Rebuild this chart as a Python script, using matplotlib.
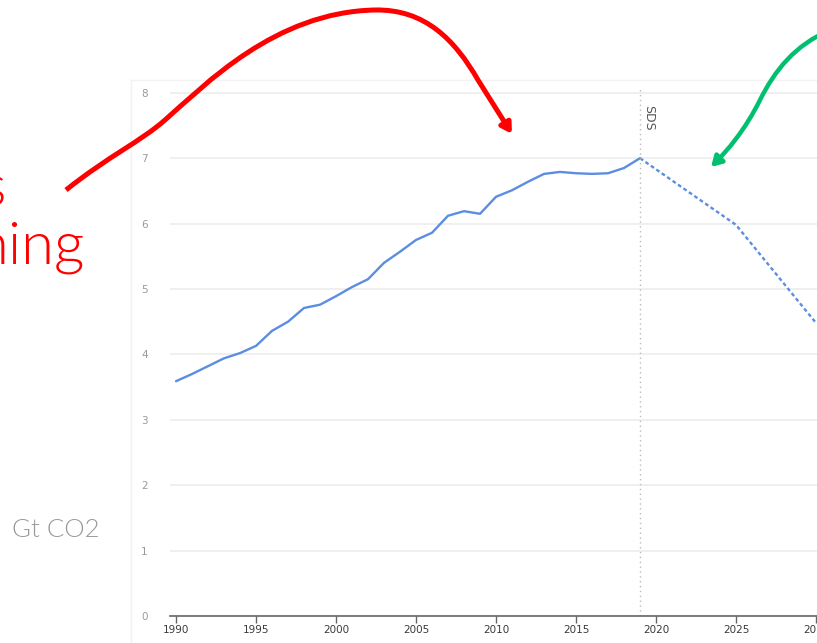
import matplotlib
matplotlib.use('Agg')
import matplotlib.pyplot as plt
from matplotlib.path import Path
from matplotlib.patches import FancyArrowPatch
from matplotlib.transforms import Affine2D
from matplotlib.lines import Line2D

# historic emissions, Gt CO2
years = [1990, 1991, 1992, 1993, 1994, 1995, 1996, 1997, 1998, 1999,
         2000, 2001, 2002, 2003, 2004, 2005, 2006, 2007, 2008, 2009,
         2010, 2011, 2012, 2013, 2014, 2015, 2016, 2017, 2018, 2019]
values = [3.59, 3.70, 3.82, 3.94, 4.02, 4.13, 4.36, 4.50, 4.71, 4.76,
          4.89, 5.03, 5.15, 5.40, 5.57, 5.75, 5.86, 6.12, 6.19, 6.15,
          6.41, 6.51, 6.64, 6.76, 6.79, 6.77, 6.76, 6.77, 6.85, 7.00]
# SDS scenario
sds_years = [2019, 2025, 2030]
sds_values = [7.00, 5.98, 4.48]

xticks = [1990, 1995, 2000, 2005, 2010, 2015, 2020, 2025, 2030]
yticks = [0, 1, 2, 3, 4, 5, 6, 7, 8]

W, H = 817, 643
fig = plt.figure(figsize=(W / 100, H / 100), dpi=100)

# pixel coords (y down) -> figure
px = Affine2D().scale(1 / W, -1 / H).translate(0, 1) + fig.transFigure

# faint border of the pasted chart image
fig.add_artist(Line2D([131, 131], [80, 643], transform=px, color='#f2f2f2', lw=1, zorder=0))
fig.add_artist(Line2D([131, 817], [80, 80], transform=px, color='#f2f2f2', lw=1, zorder=0))

# axes placed in pixels: left 170, right 817, bottom 616, top 80
ax = fig.add_axes([170 / W, (H - 616) / H, (W - 170) / W, (616 - 80) / H])
ax.patch.set_alpha(0)
ax.set_xlim(1989.625, 2030.06)
ax.set_ylim(0, (616 - 80) / 65.4)

blue = '#5b8ee0'
ax.plot(years, values, color=blue, lw=1.7, solid_capstyle='round')
ax.plot(sds_years, sds_values, color=blue, lw=1.7, linestyle=(0, (1.6, 1.2)))

ax.axvline(2019, ymax=(616 - 88) / (616 - 80), color='#bbbbbb', lw=1,
           linestyle=(0, (1, 2.5)))
ax.text(2019.55, 7.61, 'SDS', rotation=-90, fontsize=9, color='#555555',
        ha='center', va='center')

for s in ['top', 'right', 'left']:
    ax.spines[s].set_visible(False)
ax.spines['bottom'].set_color('#666666')
ax.spines['bottom'].set_linewidth(1.2)

ax.set_xticks(xticks)
ax.set_xticklabels([str(x) for x in xticks])
ax.set_yticks(yticks)
ax.set_yticklabels([str(y) for y in yticks])
ax.tick_params(axis='x', length=5, width=1, color='#666666', labelsize=7.5,
               labelcolor='#3a3a3a', pad=1.5)
ax.tick_params(axis='y', length=0, labelsize=7.5, labelcolor='#999999', pad=16)
ax.grid(axis='y', color='#eeeeee', lw=1.3)
ax.set_axisbelow(True)

# slide texts
tfont = dict(family=['Lato', 'DejaVu Sans'], fontweight=300)
fig.text(6 / W, 1 - 206 / H, 's', color='red', fontsize=43, ha='right',
         va='baseline', **tfont)
fig.text(84 / W, 1 - 264 / H, 'ning', color='red', fontsize=43, ha='right',
         va='baseline', **tfont)
fig.text(12 / W, 1 - 530 / H, 'Gt CO2', color='#999999', fontsize=18.5,
         ha='left', va='center', **tfont)

# red arrow
red_path = Path([(66, 190), (110, 155), (140, 142), (165, 120),
                 (205, 85), (275, 12), (375, 10),
                 (425, 9), (455, 40), (478, 80),
                 (512, 134)],
                [Path.MOVETO, Path.CURVE4, Path.CURVE4, Path.CURVE4,
                 Path.CURVE4, Path.CURVE4, Path.CURVE4,
                 Path.CURVE4, Path.CURVE4, Path.CURVE4,
                 Path.LINETO])
fig.add_artist(FancyArrowPatch(path=red_path, transform=px, color='red',
                               lw=3.6, arrowstyle='-|>,head_length=6,head_width=3.5',
                               joinstyle='round', capstyle='butt', zorder=5))

# green arrow
green_path = Path([(830, 30), (795, 45), (775, 70), (760, 100),
                   (745, 130), (728, 150), (711, 167)],
                  [Path.MOVETO, Path.CURVE4, Path.CURVE4, Path.CURVE4,
                   Path.CURVE4, Path.CURVE4, Path.CURVE4])
fig.add_artist(FancyArrowPatch(path=green_path, transform=px, color='#00c070',
                               lw=3.2, arrowstyle='-|>,head_length=6,head_width=3.5',
                               joinstyle='round', zorder=5))

fig.savefig('out.png', dpi=100)
